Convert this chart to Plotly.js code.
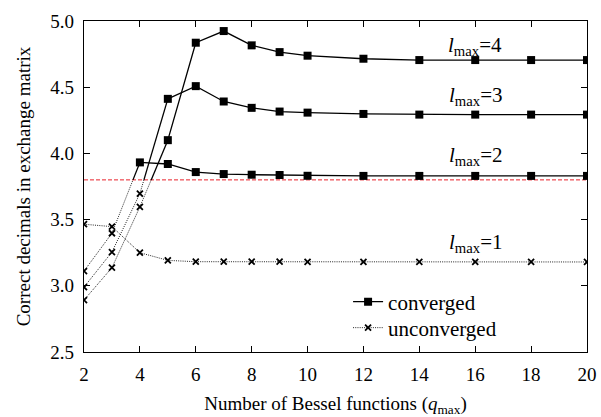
<!DOCTYPE html>
<html>
<head>
<meta charset="utf-8">
<script src="https://cdn.plot.ly/plotly-3.0.1.min.js"></script>
<style>
html,body{margin:0;padding:0;background:#fff;}
#chart{width:601px;height:417px;}
</style>
</head>
<body>
<div id="chart"></div>
<script>
// ---- data ----
const qmax = [2, 3, 4, 5, 6, 7, 8, 9, 10, 12, 14, 16, 18, 20];
const lmax1 = [3.465, 3.447, 3.25, 3.192, 3.182, 3.182, 3.182, 3.182, 3.18, 3.18, 3.18, 3.18, 3.18, 3.18];
const lmax2 = [3.111, 3.397, 3.932, 3.92, 3.859, 3.844, 3.839, 3.837, 3.831, 3.83, 3.83, 3.83, 3.83, 3.83];
const lmax3 = [2.99, 3.255, 3.697, 4.412, 4.508, 4.392, 4.344, 4.316, 4.308, 4.298, 4.293, 4.293, 4.293, 4.293];
const lmax4 = [2.892, 3.137, 3.596, 4.10, 4.836, 4.924, 4.816, 4.765, 4.738, 4.715, 4.705, 4.705, 4.705, 4.705];
const seriesLabels = ['1', '2', '3', '4'];
const threshold = 3.8;   // red dashed line: convergence threshold
const xTicks = [2, 4, 6, 8, 10, 12, 14, 16, 18, 20];
const yTicks = [2.5, 3.0, 3.5, 4.0, 4.5, 5.0];

const FONT = "'Liberation Serif', 'Nimbus Roman', 'Nimbus Roman No9 L', 'FreeSerif', 'Tinos', 'Times New Roman', Times, serif";
const convLine = {color: '#000', width: 1.3, dash: 'solid'};
const unconvLine = {color: '#222', width: 1, dash: '1px,1.2px'};
const convMarker = {symbol: 'square', size: 8, color: '#000'};
const unconvMarker = {symbol: 'x-thin', size: 6, color: '#000', line: {color: '#000', width: 1.8}};

const allSeries = [lmax1, lmax2, lmax3, lmax4];
const traces = [];
let convLegendShown = false, unconvLegendShown = false;

allSeries.forEach((ys) => {
  const ux = [], uy = [], cx = [], cy = [];
  const tux = [], tuy = [], tcx = [], tcy = [];
  for (let i = 0; i < ys.length; i++) {
    const conv = ys[i] >= threshold;
    if (conv) { cx.push(qmax[i]); cy.push(ys[i]); }
    else { ux.push(qmax[i]); uy.push(ys[i]); }
    if (i + 1 < ys.length) {
      const convNext = ys[i + 1] >= threshold;
      if (conv !== convNext) {
        // line style changes where the segment crosses the threshold
        const f = (threshold - ys[i]) / (ys[i + 1] - ys[i]);
        const xc = qmax[i] + f * (qmax[i + 1] - qmax[i]);
        if (!conv) {
          tux.push(qmax[i], xc, null); tuy.push(ys[i], threshold, null);
          tcx.push(xc, qmax[i + 1], null); tcy.push(threshold, ys[i + 1], null);
        } else {
          tcx.push(qmax[i], xc, null); tcy.push(ys[i], threshold, null);
          tux.push(xc, qmax[i + 1], null); tuy.push(threshold, ys[i + 1], null);
        }
        if (!conv) { ux.push(null); uy.push(null); } else { cx.push(null); cy.push(null); }
      }
    }
  }
  if (tux.length) traces.push({x: tux, y: tuy, mode: 'lines', line: unconvLine, showlegend: false, hoverinfo: 'skip'});
  if (tcx.length) traces.push({x: tcx, y: tcy, mode: 'lines', line: convLine, showlegend: false, hoverinfo: 'skip'});
  if (ux.length) {
    traces.push({x: ux, y: uy, mode: 'lines+markers', name: 'unconverged', legend: 'legend2',
      showlegend: !unconvLegendShown, line: unconvLine, marker: unconvMarker});
    unconvLegendShown = true;
  }
  if (cx.length) {
    traces.push({x: cx, y: cy, mode: 'lines+markers', name: 'converged', legend: 'legend',
      showlegend: !convLegendShown, line: convLine, marker: convMarker});
    convLegendShown = true;
  }
});

const labelY = [3.32, 3.98, 4.437, 4.81];
const annotations = seriesLabels.map((s, k) => ({
  x: 16, y: labelY[k], xref: 'x', yref: 'y', xanchor: 'center', yanchor: 'middle',
  text: '<i>l</i><sub>max</sub>=' + s, showarrow: false,
  font: {family: FONT, size: 21, color: '#000'}
}));

const legendStyle = (yc) => ({x: 0.525, y: yc, xanchor: 'left', yanchor: 'middle', bgcolor: 'rgba(0,0,0,0)',
  font: {family: FONT, size: 21, color: '#000'}});

const layout = {
  width: 601, height: 417,
  margin: {l: 84, r: 14, t: 21, b: 65},
  paper_bgcolor: '#fff', plot_bgcolor: '#fff',
  font: {family: FONT, size: 19, color: '#000'},
  showlegend: true,
  legend: legendStyle(0.151),
  legend2: legendStyle(0.0725),
  xaxis: {
    range: [2, 20], tickvals: xTicks, ticktext: xTicks.map(String),
    ticks: 'inside', ticklen: 6, tickwidth: 1, tickcolor: '#000',
    showline: true, linecolor: '#000', linewidth: 1.2, mirror: 'ticks',
    showgrid: false, zeroline: false, ticklabelstandoff: 5,
    tickfont: {family: FONT, size: 19, color: '#000'},
    title: {text: 'Number of Bessel functions (<i>q</i><sub>max</sub>)', standoff: 14,
      font: {family: FONT, size: 19, color: '#000'}}
  },
  yaxis: {
    range: [2.5, 5.0], tickvals: yTicks, ticktext: yTicks.map(v => v.toFixed(1)),
    ticks: 'inside', ticklen: 6, tickwidth: 1, tickcolor: '#000',
    showline: true, linecolor: '#000', linewidth: 1.2, mirror: 'ticks',
    showgrid: false, zeroline: false, ticklabelstandoff: 5,
    tickfont: {family: FONT, size: 19, color: '#000'},
    title: {text: 'Correct decimals in exchange matrix', standoff: 14,
      font: {family: FONT, size: 19, color: '#000'}}
  },
  shapes: [{type: 'line', xref: 'paper', x0: 0, x1: 1, yref: 'y', y0: threshold, y1: threshold,
    line: {color: '#e8202a', width: 1, dash: '4px,2px'}, layer: 'below'}],
  annotations: annotations
};

Plotly.newPlot('chart', traces, layout, {displayModeBar: false, staticPlot: true});
</script>
</body>
</html>
